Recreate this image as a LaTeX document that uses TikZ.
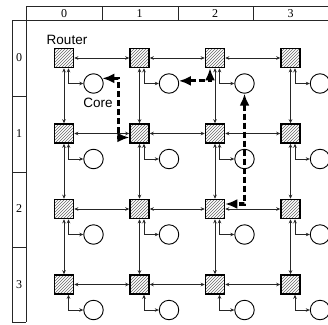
\documentclass[tikz,border=0pt]{standalone}
\usepackage{fontspec}
\setmainfont{Liberation Serif}
\newfontfamily\labelfont{Liberation Sans}
\usetikzlibrary{positioning,patterns,arrows.meta}

\tikzset{
  router/.style={draw, line width=1.5pt, minimum size=19pt, inner sep=0pt,
    pattern=north east lines, pattern color=black!60},
  core/.style={draw, circle, fill=white, line width=0.9pt, minimum size=19.5pt, inner sep=0pt},
  link/.style={<->, line width=0.6pt, draw=black!85},
  route/.style={{Latex[length=12pt,width=10pt]}-{Latex[length=12pt,width=10pt]},
    line width=3.2pt, dash pattern=on 6pt off 3pt},
  idx/.style={font=\fontsize{12}{12}\selectfont, inner sep=0pt},
  lbl/.style={font=\labelfont\fontsize{13.5}{14}\selectfont, inner sep=0pt},
  strip/.style={line width=0.7pt, draw=black!85},
}

\begin{document}
\begin{tikzpicture}[x=1pt, y=-1pt, >={Stealth[length=4pt,width=3.5pt]}]
  \useasboundingbox (0,0) rectangle (328,324);

  % 1. index strips
  \draw[strip] (26,6) -- (332,6);
  \draw[strip] (12,20.7) -- (332,20.7);
  \draw[strip] (26,6) -- (26,322);
  \draw[strip] (12,20.7) -- (12,322) -- (26,322);
  \foreach \i in {102,178,253.5}
    \draw[strip] (\i,6) -- (\i,20.7);
  \foreach \i in {96,172,247}
    \draw[strip] (12,\i) -- (26,\i);
  \foreach \i in {0,...,3}{
    \node[idx] (col\i) at ({64+75.5*\i},13.5) {\i};
    \node[idx] (row\i) at (19,{58+75.5*\i}) {\i};
  }

  % 2. routers and cores
  \foreach \r in {0,...,3}{
    \foreach \c in {0,...,3}{
      \node[router] (r\r\c) at ({64+75.5*\c},{58+75.5*\r}) {};
      \node[core] (c\r\c) at ([shift={(29.5,25.5)}]r\r\c) {};
      \draw[link] ([xshift=4.5pt]r\r\c.south) |- (c\r\c.west);
    }
  }

  % 3. mesh links
  \foreach \r in {0,...,3}{
    \foreach \c [evaluate=\c as \n using int(\c+1)] in {0,1,2}{
      \draw[link] (r\r\c.east) -- (r\r\n.west);
      \draw[link] (r\c\r.south) -- (r\n\r.north);
    }
  }

  \node[lbl, above=3pt of r00, xshift=3pt] (router) {Router};
  \node[lbl, below=4pt of c00, xshift=4.5pt] (core) {Core};

  % 4. routes
  \draw[route] (c00.30) -| ([xshift=-11pt,yshift=-4pt]r11.west) -- ([yshift=-4pt]r11.west);
  \draw[route] (c01.15) -| ([xshift=-5pt]r02.south);
  \draw[route] (c02.south) |- ([yshift=5pt]r22.east);
\end{tikzpicture}
\end{document}
